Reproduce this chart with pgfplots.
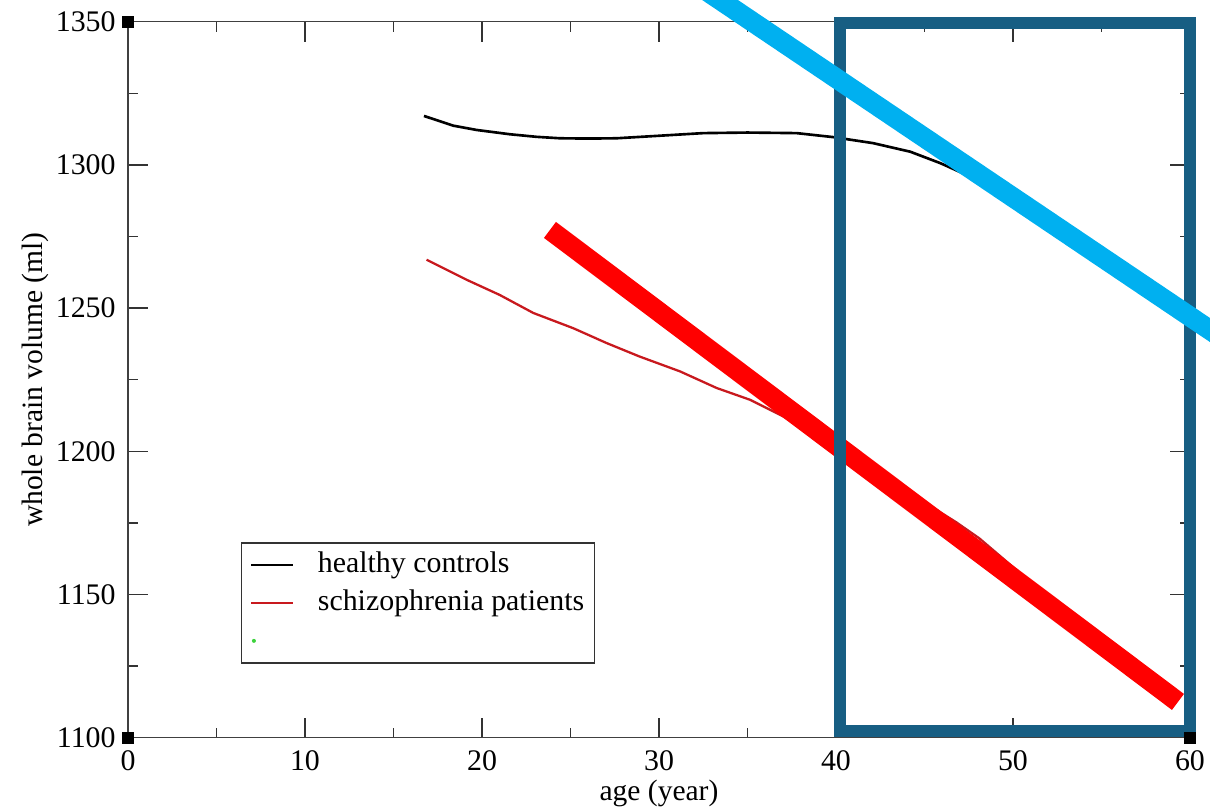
\documentclass[border=0pt]{standalone}
\usepackage{pgfplots}
\pgfplotsset{compat=1.18}
\usepackage{fontspec}
\setmainfont{Liberation Serif}
\definecolor{szred}{RGB}{200,25,30}
\definecolor{annblue}{RGB}{0,176,240}
\definecolor{annred}{RGB}{255,0,0}
\definecolor{annbox}{RGB}{23,94,131}
\definecolor{legendgreen}{RGB}{60,210,60}
\begin{document}
\begin{tikzpicture}
\begin{axis}[
  scale only axis, width=106.2mm, height=71.6mm,
  xmin=0, xmax=60, ymin=1100, ymax=1350,
  xtick={0,10,...,60}, ytick={1100,1150,...,1350},
  minor x tick num=1, minor y tick num=1,
  tick align=inside, major tick length=2mm, minor tick length=1mm,
  axis line style={black!75, line width=0.4pt},
  every tick/.style={black!80, line width=0.4pt},
  font=\fontsize{8.4}{10}\selectfont,
  ticklabel style={font=\fontsize{8.5}{10}\selectfont},
  /pgf/number format/assume math mode=true,
  /pgf/number format/1000 sep={},
  xlabel={age (year)}, ylabel={whole brain volume (ml)},
  xlabel style={at={(axis description cs:0.5,-0.078)}, anchor=center},
  ylabel style={at={(axis description cs:-0.0876,0.5)}, anchor=center},
  clip=false,
  legend style={at={(axis description cs:0.1061,0.2732)}, anchor=north west,
    draw=black!80, line width=0.4pt, fill=white,
    inner xsep=2pt, inner ysep=0.9pt, row sep=0pt,
    font=\fontsize{8.5}{10}\selectfont,
    nodes={inner xsep=1pt, inner ysep=1.4pt, text height=6.2pt, text depth=1.8pt},
    /tikz/every odd column/.append style={column sep=5.6pt}},
  legend cell align=left,
  linelegend/.style={legend image code/.code={\draw[##1] (0.3mm,0mm) -- (4.5mm,0mm);}},
  dotlegend/.style={legend image code/.code={\path[draw=none,fill=none] (0mm,0mm) -- (4.5mm,0mm); \path[draw=none,fill=legendgreen] (0.55mm,0mm) circle (0.2mm);}},
]
% corner markers
\addplot[only marks, mark=square*, mark size=0.55mm, black, forget plot]
  coordinates {(0,1350) (0,1100) (60,1100)};
% healthy controls
\addplot[black, line width=0.75pt, linelegend] coordinates {
 (16.72,1317.1) (18.38,1313.7) (19.7,1312.2) (21.58,1310.7) (23.09,1309.8)
 (24.41,1309.3) (26,1309.2) (27.6,1309.3) (30.06,1310.2) (32.5,1311.1)
 (35,1311.3) (37.78,1311.1) (39.85,1309.7) (42.1,1307.6) (44.2,1304.6)
 (45.9,1300.6) (47.2,1297)};
\addlegendentry{healthy controls}
% schizophrenia patients
\addplot[szred, line width=0.65pt, linelegend] coordinates {
 (16.87,1266.9) (19.13,1259.9) (21.0,1254.6) (22.9,1248.3) (25.15,1243.0)
 (27.04,1237.8) (28.9,1233.1) (31.19,1227.9) (33.26,1222.1) (35.14,1218.0)
 (37.02,1212.2) (40,1201) (42.5,1191) (44.9,1182.6) (46.8,1175.2)
 (48.1,1169.6) (50.0,1159.6) (50.5,1156.5)};
\addlegendentry{schizophrenia patients}
\addlegendimage{dotlegend}
\addlegendentry{}
% annotations
\addplot[annred, line width=2mm, forget plot] coordinates {(23.84,1277.3) (59.32,1112.5)};
\addplot[annbox, line width=1.2mm, line cap=rect, line join=miter, forget plot]
  coordinates {(40.23,1102.2) (40.23,1349.7) (60,1349.7) (60,1102.2) (40.23,1102.2)};
\addplot[annblue, line width=2mm, forget plot] coordinates {(30,1371.94) (64,1230.4)};
\coordinate (bbsw) at (axis cs:-7.232,1075.1);
\coordinate (bbne) at (axis cs:61.13,1357.58);
\end{axis}
\pgfresetboundingbox
\path[use as bounding box] (bbsw) rectangle (bbne);
\end{tikzpicture}
\end{document}
